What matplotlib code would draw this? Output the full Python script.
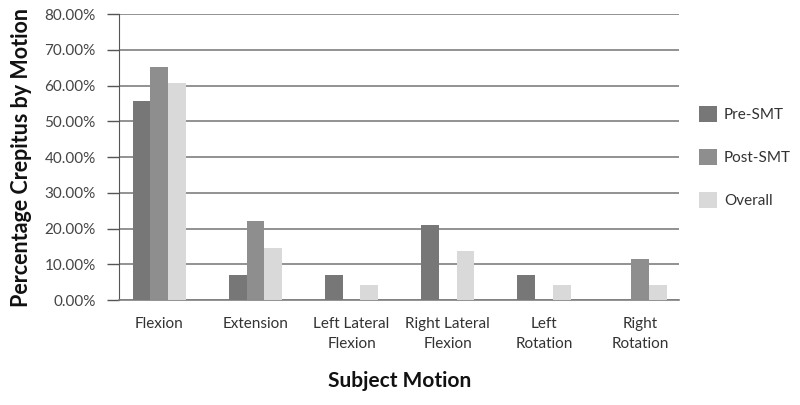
import numpy as np
import matplotlib
matplotlib.use('Agg')
import matplotlib.pyplot as plt
from matplotlib.ticker import FuncFormatter

plt.rcParams['font.family'] = 'Lato'
plt.rcParams['font.size'] = 11

# datos
categorias = ['Flexion', 'Extension', 'Left Lateral\nFlexion', 'Right Lateral\nFlexion',
              'Left\nRotation', 'Right\nRotation']
pre_smt = [55.6, 6.9, 7.1, 21.0, 7.0, 0.0]
post_smt = [65.3, 22.1, 0.0, 0.0, 0.0, 11.6]
overall = [60.8, 14.5, 4.2, 13.8, 4.2, 4.2]

colores = ['#777777', '#8e8e8e', '#d9d9d9']
series = [('Pre-SMT', pre_smt), ('Post-SMT', post_smt), ('Overall', overall)]

fig = plt.figure(figsize=(8, 4.05), dpi=100)
ax = fig.add_axes([0.149, 0.259, 0.7, 0.706])

x = np.arange(len(categorias))
ancho = 0.184
for i, (nombre, vals) in enumerate(series):
    ax.bar(x + (i - 1) * ancho, vals, ancho, color=colores[i], label=nombre, zorder=3)

ax.set_ylim(0, 80)
ax.set_xlim(-0.416, 5.406)
ax.set_yticks(np.arange(0, 81, 10))
ax.yaxis.set_major_formatter(FuncFormatter(lambda v, p: f'{v:.2f}%'))
ax.grid(axis='y', color='#7f7f7f', linewidth=1.2, zorder=0)

ax.set_xticks(x)
ax.set_xticklabels(categorias, linespacing=1.6, color='#333333')
ax.tick_params(axis='x', length=0, pad=12)
ax.tick_params(axis='y', length=9, width=1, color='#555555', pad=8, labelcolor='#444444')

for s in ['top', 'right']:
    ax.spines[s].set_visible(False)
ax.spines['left'].set_color('#555555')
ax.spines['bottom'].set_color('#7f7f7f')
ax.spines['bottom'].set_linewidth(1.2)

ax.set_xlabel('Subject Motion', fontsize=15, fontweight='bold', color='#111111', labelpad=14)
ax.set_ylabel('Percentage Crepitus by Motion', fontsize=15.5, fontweight='bold', color='#111111', labelpad=9)

ax.legend(loc='center left', bbox_to_anchor=(1.01, 0.5), frameon=False,
          handlelength=1.2, handleheight=1.2, labelspacing=1.75, handletextpad=0.45,
          labelcolor='#333333')

plt.savefig('out.png', dpi=100)
plt.close()
